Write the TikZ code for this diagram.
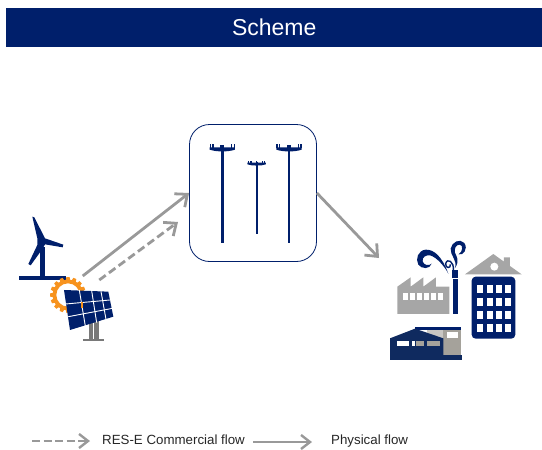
\documentclass[tikz,border=0pt]{standalone}
\usepackage{fontspec}
\setmainfont{Liberation Sans}
\usetikzlibrary{arrows.meta}
\definecolor{navy}{HTML}{001F6B}
\definecolor{deep}{HTML}{0F2A5F}
\definecolor{flow}{HTML}{999999}
\definecolor{bldg}{HTML}{A6A6A6}
\definecolor{ware}{HTML}{A5A29B}
\definecolor{sunc}{HTML}{F7931E}
\tikzset{
 flowline/.style={draw=flow,line width=2.8pt,-{Straight Barb[length=10pt,width=17pt,line width=2.8pt]}},
 legendline/.style={draw=flow,line width=2.4pt,-{Straight Barb[length=9pt,width=14pt,line width=2.4pt]}},
 dashflow/.style={flowline,dash pattern=on 8pt off 4pt},
 dashlegend/.style={legendline,dash pattern=on 8pt off 3.5pt},
 label/.style={font=\fontsize{13.3}{15}\selectfont,anchor=west,inner sep=0pt,text=black!85},
 pole/.style={draw=navy,line width=2.8pt},
 smallpole/.style={draw=navy,line width=2.2pt},
 win/.style={fill=white},
 zoomA/.style={shift={(0,200)},x=0.3333pt,y=-0.3333pt},
 zoomB/.style={shift={(380,230)},x=0.3333pt,y=-0.3333pt},
 zoomC/.style={shift={(180,115)},x=0.3333pt,y=-0.3333pt},
 zoomD/.style={shift={(410,232)},x=0.3333pt,y=-0.3333pt}
}
\begin{document}
\begin{tikzpicture}[x=1pt,y=-1pt]
\useasboundingbox (0,0) rectangle (542,450);
% title
\node[fill=navy,text=white,minimum width=536pt,minimum height=39pt,inner sep=0pt,anchor=north west,font=\fontsize{23}{26}\selectfont] (title) at (6,8) {Scheme};
% grid box
\node[draw=navy,line width=0.8pt,rounded corners=20pt,minimum width=127pt,minimum height=137pt,inner sep=0pt,anchor=center,fill=white] (grid) at (253,193) {};
% poles
\begin{scope}[zoomC]
\foreach \x in {127,327}{
 \draw[pole] (\x,92) -- (\x,385);
 \fill[navy] (\x-38,97) -- (\x+38,97) -- (\x+38,104) .. controls (\x+18,111) and (\x-18,111) .. (\x-38,104) -- cycle;
 \fill[navy] (\x-6,90) rectangle (\x+6,100);
 \foreach \d in {-36,-28,28,36}{\fill[navy] (\x+\d-2,87) rectangle (\x+\d+2,100);}
}
\draw[smallpole] (230,140) -- (230,356);
\fill[navy] (202,143) -- (258,143) -- (258,148) .. controls (245,153) and (215,153) .. (202,148) -- cycle;
\foreach \d in {-24,-17,0,17,24}{\fill[navy] (230+\d-1.6,137) rectangle (230+\d+1.6,146);}
\end{scope}
% turbine
\begin{scope}[zoomA]
\fill[navy] (57,229) rectangle (198,241);
\fill[navy] (120,140) rectangle (134,232);
\fill[navy] (97,50) -- (103,52) -- (135,115) -- (190,134) -- (188,142) -- (135,133) -- (128,146) -- (92,196) -- (85,192) -- (112,135) -- (112,115) -- cycle;
% sun
\coordinate (suncenter) at (204,285);
\begin{scope}[shift={(suncenter)}]
\foreach \a in {0,22.5,...,337.5}{
 \fill[sunc] (\a-10:42) -- (\a-5:54) -- (\a+5:54) -- (\a+10:42) -- cycle;
}
\fill[sunc,even odd rule] (0,0) circle[radius=46] (0,0) circle[radius=35];
\end{scope}
% stand
\fill[gray!95!black] (268,360) rectangle (278,418);
\fill[gray!95!black] (281,360) rectangle (298,418);
\fill[gray!95!black] (250,416) rectangle (313,423);
% panel
\fill[navy] (192,270) -- (325,275) -- (340,350) -- (210,390) -- cycle;
\draw[white,line width=0.9pt] (197,312) -- (330,300) (205,350) -- (338,325);
\draw[white,line width=0.9pt] (238,270) -- (256,378) (275,272) -- (290,368) (303,274) -- (318,358);
\fill[sunc] (243,305) rectangle (248,325);
\end{scope}
% buildings
\begin{scope}[zoomB]
% factory
\fill[bldg] (52,170) -- (92,142) -- (92,170) -- (130,142) -- (130,170) -- (168,142) -- (168,170) -- (208,170) -- (208,252) -- (52,252) -- cycle;
\foreach \i in {0,...,5}{\fill[win] (68+\i*21,188) rectangle (85.5+\i*21,210);}
% chimney
\fill[navy] (216,120) rectangle (234,252);
\fill[white] (216,143) rectangle (234,147);
\fill[white] (216,147) rectangle (220,252);
% house
\fill[bldg] (255,133) -- (340,72) -- (372,95) -- (372,82) -- (390,82) -- (390,108) -- (425,133) -- cycle;
\fill[white] (343,110) circle[radius=12];
\fill[navy,rounded corners=4pt] (275,140) rectangle (406,326);
\foreach \x in {291,320,347,375}{\foreach \y in {165,203,243,281}{\fill[win] (\x,\y) rectangle +(18,25);}}
% warehouse
\fill[ware] (190,298) rectangle (243,376);
\fill[white] (200,306) rectangle (235,323);
\fill[ware!60] (140,298) rectangle (190,325);
\fill[navy] (105,292) rectangle (243,300);
\fill[deep] (30,325) -- (105,296) -- (190,325) -- (190,376) -- (30,376) -- cycle;
\fill[deep] (30,375) rectangle (245,390);
\fill[white] (50,333) rectangle (88,348);
\fill[white] (95,333) rectangle (105,348);
\fill[ware] (108,333) rectangle (133,348);
\fill[ware] (142,333) rectangle (180,348);
\end{scope}
% smoke
\begin{scope}[zoomD]
\fill[navy] (115,125) .. controls (95,70) and (70,52) .. (47,53) .. controls (25,55) and (15,80) .. (25,98)
 .. controls (35,112) and (60,112) .. (65,95) .. controls (55,103) and (42,100) .. (38,88)
 .. controls (35,75) and (50,68) .. (60,70) .. controls (80,75) and (105,105) .. (115,125) -- cycle;
\draw[navy,line width=1.4pt] (130,114) .. controls (133,90) and (112,76) .. (107,95) .. controls (105,110) and (124,110) .. (121,97);
\fill[navy] (135,108) .. controls (143,85) and (120,70) .. (122,50) .. controls (125,30) and (150,18) .. (163,33)
 .. controls (175,50) and (160,72) .. (146,67) .. controls (158,60) and (160,40) .. (150,38)
 .. controls (138,37) and (132,50) .. (135,62) .. controls (140,75) and (150,85) .. (135,108) -- cycle;
\end{scope}
% connectors
\coordinate (srcA) at (82.7,276);
\coordinate (srcB) at (99.3,280);
\coordinate (dstB) at (178,222);
\coordinate (load) at (379,258);
\draw[flowline] (srcA) -- (grid.west);
\draw[dashflow] (srcB) -- (dstB);
\draw[flowline] (grid.east) -- (load);
% legend
\coordinate (l1a) at (32,441);
\coordinate (l1b) at (90,441);
\coordinate (l2a) at (253,442);
\coordinate (l2b) at (312,442);
\draw[dashlegend] (l1a) -- (l1b);
\draw[legendline] (l2a) -- (l2b);
\node[label] (t1) at (102,440) {RES-E Commercial flow};
\node[label] (t2) at (331,441.5) {Physical flow};
\end{tikzpicture}
\end{document}
